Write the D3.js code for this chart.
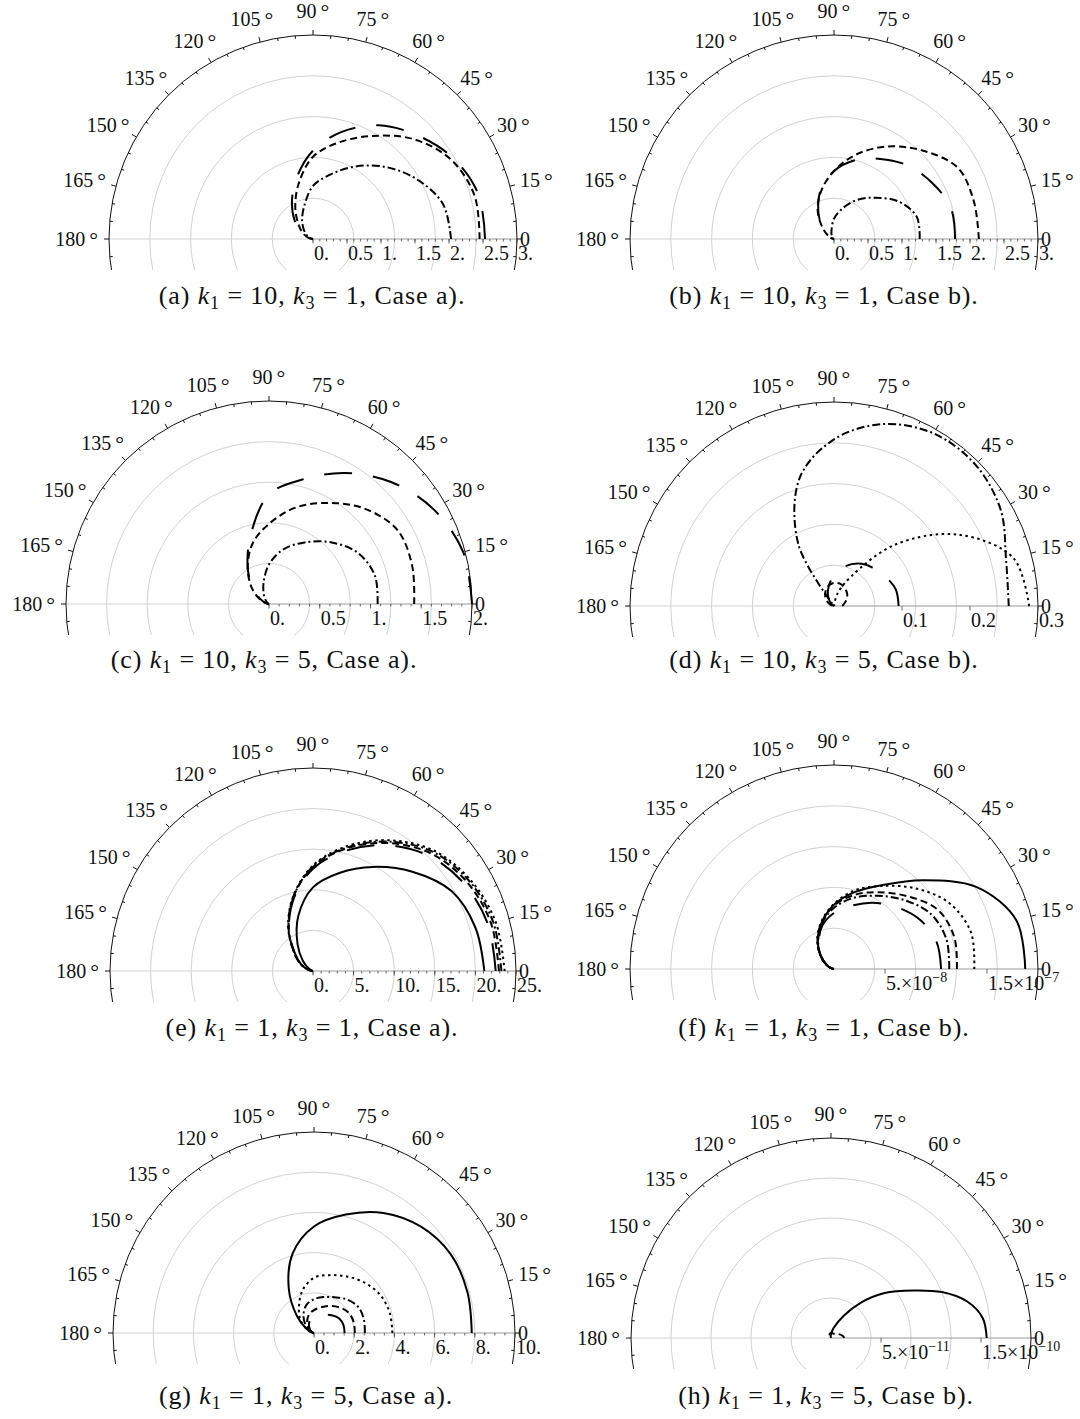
<!DOCTYPE html>
<html>
<head>
<meta charset="utf-8">
<script src="https://cdn.jsdelivr.net/npm/d3@7"></script>
<style>
body { margin: 0; background: #fff; }
svg text { font-family: "Liberation Serif", "Times New Roman", serif; fill: #111; }
</style>
</head>
<body>
<svg id="chart" width="1080" height="1419"></svg>
<script>
// polar angle of every sample, degrees
var angles = [0, 15, 30, 45, 60, 75, 90, 105, 120, 135, 150, 165, 180];

// (a) k1 = 10, k3 = 1, Case a)
var a_longdash = [2.53, 2.52, 2.38, 2.16, 1.93, 1.63, 1.30, 0.93, 0.62, 0.38, 0.20, 0.08, 0];
var a_dashed   = [2.45, 2.46, 2.34, 2.08, 1.75, 1.47, 1.21, 0.83, 0.52, 0.30, 0.17, 0.07, 0];
var a_dotdash  = [2.03, 1.98, 1.76, 1.50, 1.23, 0.98, 0.78, 0.50, 0.32, 0.19, 0.10, 0.04, 0];
var a_ticks  = [0, 0.5, 1, 1.5, 2, 2.5, 3];
var a_labels = ["0.", "0.5", "1.", "1.5", "2.", "2.5", "3."];

// (b) k1 = 10, k3 = 1, Case b)
var b_longdash = [1.78, 1.78, 1.66, 1.53, 1.36, 1.20, 1.00, 0.75, 0.46, 0.24, 0.10, 0.03, 0];
var b_dashed   = [2.13, 2.13, 2.10, 1.84, 1.57, 1.29, 1.00, 0.73, 0.48, 0.24, 0.10, 0.03, 0];
var b_dotdash  = [1.26, 1.26, 1.10, 0.86, 0.66, 0.46, 0.30, 0.14, 0.07, 0.03, 0.01, 0, 0];
var b_ticks  = [0, 0.5, 1, 1.5, 2, 2.5, 3];
var b_labels = ["0.", "0.5", "1.", "1.5", "2.", "2.5", "3."];

// (c) k1 = 10, k3 = 5, Case a)
var c_longdash = [2.00, 1.98, 1.87, 1.70, 1.49, 1.27, 1.08, 0.70, 0.42, 0.23, 0.10, 0.03, 0];
var c_dashed   = [1.43, 1.46, 1.46, 1.33, 1.15, 0.98, 0.79, 0.62, 0.42, 0.25, 0.12, 0.04, 0];
var c_dotdash  = [1.07, 1.08, 1.01, 0.86, 0.70, 0.56, 0.39, 0.21, 0.10, 0.04, 0.01, 0, 0];
var c_ticks  = [0, 0.5, 1, 1.5, 2];
var c_labels = ["0.", "0.5", "1.", "1.5", "2."];

// (d) k1 = 10, k3 = 5, Case b)
var d_dotdash  = [0.257, 0.262, 0.283, 0.294, 0.293, 0.277, 0.245, 0.195, 0.105, 0, 0, 0, 0];
var d_dotted   = [0.287, 0.273, 0.210, 0.128, 0.050, 0.018, 0, 0, 0, 0, 0, 0, 0];
var d_longdash = [0.095, 0.094, 0.087, 0.080, 0.072, 0.060, 0.045, 0.030, 0.018, 0.008, 0.003, 0, 0];
var d_dashed   = [0.012, 0.016, 0.022, 0.027, 0.031, 0.034, 0.034, 0.031, 0.025, 0.018, 0.010, 0.004, 0];
var d_ticks  = [0.1, 0.2, 0.3];
var d_labels = ["0.1", "0.2", "0.3"];

// (e) k1 = 1, k3 = 1, Case a)
var e_solid    = [21.1, 20.7, 19.7, 17.3, 14.8, 12.5, 10.3, 7.0, 3.8, 1.75, 0.6, 0.15, 0];
var e_longdash = [22.5, 22.3, 21.5, 20.1, 17.9, 15.3, 12.6, 9.2, 5.9, 3.2, 1.7, 0.55, 0];
var e_dashed   = [22.9, 22.7, 21.9, 20.5, 18.2, 15.6, 12.8, 9.4, 6.0, 3.3, 1.8, 0.6, 0];
var e_dotdash  = [23.2, 23.0, 22.2, 20.8, 18.4, 15.7, 12.9, 9.4, 6.0, 3.3, 1.8, 0.6, 0];
var e_dotted   = [23.6, 23.3, 22.4, 21.0, 18.6, 15.9, 13.0, 9.5, 6.1, 3.3, 1.8, 0.6, 0];
var e_ticks  = [0, 5, 10, 15, 20, 25];
var e_labels = ["0.", "5.", "10.", "15.", "20.", "25."];

// (f) k1 = 1, k3 = 1, Case b)   values in units of 10^-8
var f_solid    = [18.75, 18.5, 16.1, 12.3, 9.5, 7.8, 6.3, 4.7, 3.2, 1.8, 0.85, 0.3, 0];
var f_dotted   = [13.75, 13.9, 13.0, 11.2, 9.4, 8.0, 6.4, 4.8, 3.3, 1.9, 0.9, 0.3, 0];
var f_dashed   = [12.05, 12.2, 11.7, 10.1, 8.7, 7.5, 6.2, 4.7, 3.2, 1.9, 0.9, 0.3, 0];
var f_dotdash  = [11.3, 11.4, 10.9, 9.6, 8.3, 7.2, 6.0, 4.6, 3.1, 1.85, 0.9, 0.3, 0];
var f_longdash = [10.5, 10.4, 9.7, 8.6, 7.5, 6.4, 5.5, 4.4, 3.0, 1.8, 0.9, 0.3, 0];
var f_ticks  = [5, 15];
var f_labels = ["5.\u00d710^\u22128", "1.5\u00d710^\u22127"];

// (g) k1 = 1, k3 = 5, Case a)
var g_solid    = [7.85, 7.9, 7.85, 7.5, 6.9, 6.1, 5.3, 4.1, 2.5, 1.2, 0.45, 0.12, 0];
var g_dotted   = [3.9, 3.9, 3.8, 3.55, 3.25, 2.98, 2.75, 2.2, 1.5, 0.97, 0.45, 0.12, 0];
var g_dotdash  = [2.53, 2.57, 2.56, 2.35, 2.05, 1.85, 1.68, 1.45, 1.05, 0.62, 0.3, 0.08, 0];
var g_dashed   = [2.03, 2.05, 2.0, 1.8, 1.55, 1.32, 1.14, 0.95, 0.68, 0.4, 0.2, 0.05, 0];
var g_longdash = [1.52, 1.52, 1.45, 1.25, 1.05, 0.95, 0.85, 0.7, 0.5, 0.3, 0.15, 0.04, 0];
var g_ticks  = [0, 2, 4, 6, 8, 10];
var g_labels = ["0.", "2.", "4.", "6.", "8.", "10."];

// (h) k1 = 1, k3 = 5, Case b)   values in units of 10^-11, own angle grid
var h_angles   = [0, 7.5, 15, 22.5, 30, 40, 50, 60, 75, 90, 105, 120];
var h_solid    = [15.57, 15.3, 14.1, 12.0, 9.5, 7.0, 4.6, 2.6, 1.05, 0.35, 0.1, 0];
var h_dashed   = [1.3, 1.25, 1.1, 0.95, 0.8, 0.65, 0.55, 0.5, 0.5, 0.5, 0.45, 0.3];
var h_ticks  = [5, 15];
var h_labels = ["5.\u00d710^\u221211", "1.5\u00d710^\u221210"];

var angleTicks  = [0, 15, 30, 45, 60, 75, 90, 105, 120, 135, 150, 165, 180];
var angleLabels = ["0", "15", "30", "45", "60", "75", "90", "105", "120", "135", "150", "165", "180"];

var capLetters = ["a", "b", "c", "d", "e", "f", "g", "h"];
var capK1 = [10, 10, 10, 10, 1, 1, 1, 1];
var capK3 = [1, 1, 5, 5, 1, 1, 5, 5];
var capCase = ["a", "b", "a", "b", "a", "b", "a", "b"];

var dashes = {
    solid: null,
    longdash: "28,21",
    dashed: "7,4",
    dotdash: "8,3,2,3",
    dotted: "2.5,3.5"
};

var panels = [
    { cx: 313, cy: 239, R: 204, max: 3, minor: 0.1, ticks: a_ticks, labels: a_labels, capX: 312, capY: 304,
      series: [[angles, a_longdash, "longdash"], [angles, a_dashed, "dashed"], [angles, a_dotdash, "dotdash"]] },
    { cx: 834, cy: 239, R: 204, max: 3, minor: 0.1, ticks: b_ticks, labels: b_labels, capX: 824, capY: 304,
      series: [[angles, b_longdash, "longdash"], [angles, b_dashed, "dashed"], [angles, b_dotdash, "dotdash"]] },
    { cx: 269, cy: 604, R: 203, max: 2, minor: 0.1, ticks: c_ticks, labels: c_labels, capX: 264, capY: 668,
      series: [[angles, c_longdash, "longdash"], [angles, c_dashed, "dashed"], [angles, c_dotdash, "dotdash"]] },
    { cx: 834, cy: 606, R: 204, max: 0.3, minor: 0, ticks: d_ticks, labels: d_labels, capX: 824, capY: 668,
      series: [[angles, d_dotdash, "dotdash"], [angles, d_dotted, "dotted"], [angles, d_longdash, "longdash"], [angles, d_dashed, "dashed"]] },
    { cx: 313, cy: 971, R: 203, max: 25, minor: 1, ticks: e_ticks, labels: e_labels, capX: 312, capY: 1036,
      series: [[angles, e_solid, "solid"], [angles, e_longdash, "longdash"], [angles, e_dashed, "dashed"], [angles, e_dotdash, "dotdash"], [angles, e_dotted, "dotted"]] },
    { cx: 834, cy: 969, R: 204, max: 20, minor: 0, ticks: f_ticks, labels: f_labels, capX: 824, capY: 1036,
      series: [[angles, f_solid, "solid"], [angles, f_dotted, "dotted"], [angles, f_dashed, "dashed"], [angles, f_dotdash, "dotdash"], [angles, f_longdash, "longdash"]] },
    { cx: 314, cy: 1333, R: 201, max: 10, minor: 0.5, ticks: g_ticks, labels: g_labels, capX: 306, capY: 1404,
      series: [[angles, g_solid, "solid"], [angles, g_dotted, "dotted"], [angles, g_dotdash, "dotdash"], [angles, g_dashed, "dashed"], [angles, g_longdash, "longdash"]] },
    { cx: 831, cy: 1338, R: 200, max: 20, minor: 0, ticks: h_ticks, labels: h_labels, capX: 826, capY: 1404,
      series: [[h_angles, h_solid, "solid"], [h_angles, h_dashed, "dashed"]] }
];

var svg = d3.select("#chart");
var rad = Math.PI / 180;

panels.forEach(function(p, pi) {
    var g = svg.append("g").attr("transform", "translate(" + p.cx + "," + p.cy + ")");
    var r = d3.scaleLinear().domain([0, p.max]).range([0, p.R]);

    var clipId = "clip" + pi;
    g.append("clipPath").attr("id", clipId)
        .append("rect")
        .attr("x", -p.R - 40).attr("y", -p.R - 40)
        .attr("width", 2 * p.R + 80).attr("height", p.R + 40 + 31);

    var grid = g.append("g").attr("clip-path", "url(#" + clipId + ")");

    // grey rings
    grid.selectAll("circle.ring")
        .data(d3.range(1, 5).map(function(i) { return p.max * i / 5; }))
        .enter().append("circle")
        .attr("r", function(d) { return r(d); })
        .attr("fill", "none")
        .attr("stroke", "#d2d2d2")
        .attr("stroke-width", 1);

    // baseline through the pole
    grid.append("line")
        .attr("x1", -p.R).attr("x2", 0).attr("y1", 0).attr("y2", 0)
        .attr("stroke", "#d2d2d2");
    grid.append("line")
        .attr("x1", 0).attr("x2", p.R).attr("y1", 0).attr("y2", 0)
        .attr("stroke", "#9a9a9a");

    // outer frame
    grid.append("circle")
        .attr("r", p.R)
        .attr("fill", "none")
        .attr("stroke", "#111")
        .attr("stroke-width", 1);

    // angular ticks, every 5 degrees
    grid.selectAll("line.atick")
        .data(d3.range(0, 360, 5))
        .enter().append("line")
        .attr("x1", function(d) { return (d % 15 === 0 ? p.R : p.R - 3) * Math.cos(d * rad); })
        .attr("y1", function(d) { return -(d % 15 === 0 ? p.R : p.R - 3) * Math.sin(d * rad); })
        .attr("x2", function(d) { return (d % 15 === 0 ? p.R + 5 : p.R) * Math.cos(d * rad); })
        .attr("y2", function(d) { return -(d % 15 === 0 ? p.R + 5 : p.R) * Math.sin(d * rad); })
        .attr("stroke", "#111")
        .attr("stroke-width", 1);

    // radial axis ticks
    if (p.minor > 0) {
        g.selectAll("line.minor")
            .data(d3.range(0, p.max + p.minor / 2, p.minor))
            .enter().append("line")
            .attr("x1", function(d) { return r(d); }).attr("x2", function(d) { return r(d); })
            .attr("y1", 0).attr("y2", 2.5)
            .attr("stroke", "#444").attr("stroke-width", 0.8);
    }
    g.selectAll("line.major")
        .data(p.ticks)
        .enter().append("line")
        .attr("x1", function(d) { return r(d); }).attr("x2", function(d) { return r(d); })
        .attr("y1", 0).attr("y2", 4.5)
        .attr("stroke", "#444").attr("stroke-width", 0.8);

    p.ticks.forEach(function(t, i) {
        var parts = p.labels[i].split("^");
        var tx = g.append("text")
            .attr("x", r(t) + 1)
            .attr("y", 21)
            .attr("font-size", 20);
        tx.append("tspan").text(parts[0]);
        if (parts[1]) {
            tx.append("tspan").attr("font-size", 14).attr("dy", -8).text(parts[1]);
        }
    });

    // angle labels
    angleTicks.forEach(function(a, i) {
        var t = g.append("text").attr("font-size", 20);
        t.append("tspan").text(angleLabels[i]);
        if (a !== 0) {
            t.append("tspan")
                .attr("dx", 4).attr("dy", 1)
                .attr("font-size", 22)
                .text("\u00b0");
        }
        var bb = t.node().getBBox();
        var gap = a === 0 ? 3 : 11;
        var px = (p.R + gap) * Math.cos(a * rad) + Math.cos(a * rad) * bb.width / 2;
        var py = -(p.R + gap) * Math.sin(a * rad) - Math.sin(a * rad) * bb.height / 2;
        t.attr("transform", "translate(" + (px - (bb.x + bb.width / 2)) + "," + (py - (bb.y + bb.height / 2)) + ")");
    });

    // curves
    var line = d3.line()
        .x(function(d) { return r(d[1]) * Math.cos(d[0] * rad); })
        .y(function(d) { return -r(d[1]) * Math.sin(d[0] * rad); })
        .curve(d3.curveCatmullRom.alpha(0.5));

    p.series.forEach(function(s) {
        var pts = [];
        for (var k = 0; k < s[0].length; k++) {
            pts.push([s[0][k], s[1][k]]);
            if (s[1][k] === 0) break;
        }
        g.append("path")
            .attr("d", line(pts))
            .attr("fill", "none")
            .attr("stroke", "#000")
            .attr("stroke-width", 2)
            .attr("stroke-dasharray", dashes[s[2]]);
    });

    // caption
    var cap = svg.append("text")
        .attr("x", p.capX).attr("y", p.capY)
        .attr("text-anchor", "middle")
        .attr("font-size", 26)
        .attr("letter-spacing", 0.9);
    cap.append("tspan").text("(" + capLetters[pi] + ") ");
    cap.append("tspan").attr("font-style", "italic").text("k");
    cap.append("tspan").attr("font-size", 18).attr("dy", 5).text("1");
    cap.append("tspan").attr("dy", -5).text(" = " + capK1[pi] + ", ");
    cap.append("tspan").attr("font-style", "italic").text("k");
    cap.append("tspan").attr("font-size", 18).attr("dy", 5).text("3");
    cap.append("tspan").attr("dy", -5).text(" = " + capK3[pi] + ", Case " + capCase[pi] + ").");
});
</script>
</body>
</html>
